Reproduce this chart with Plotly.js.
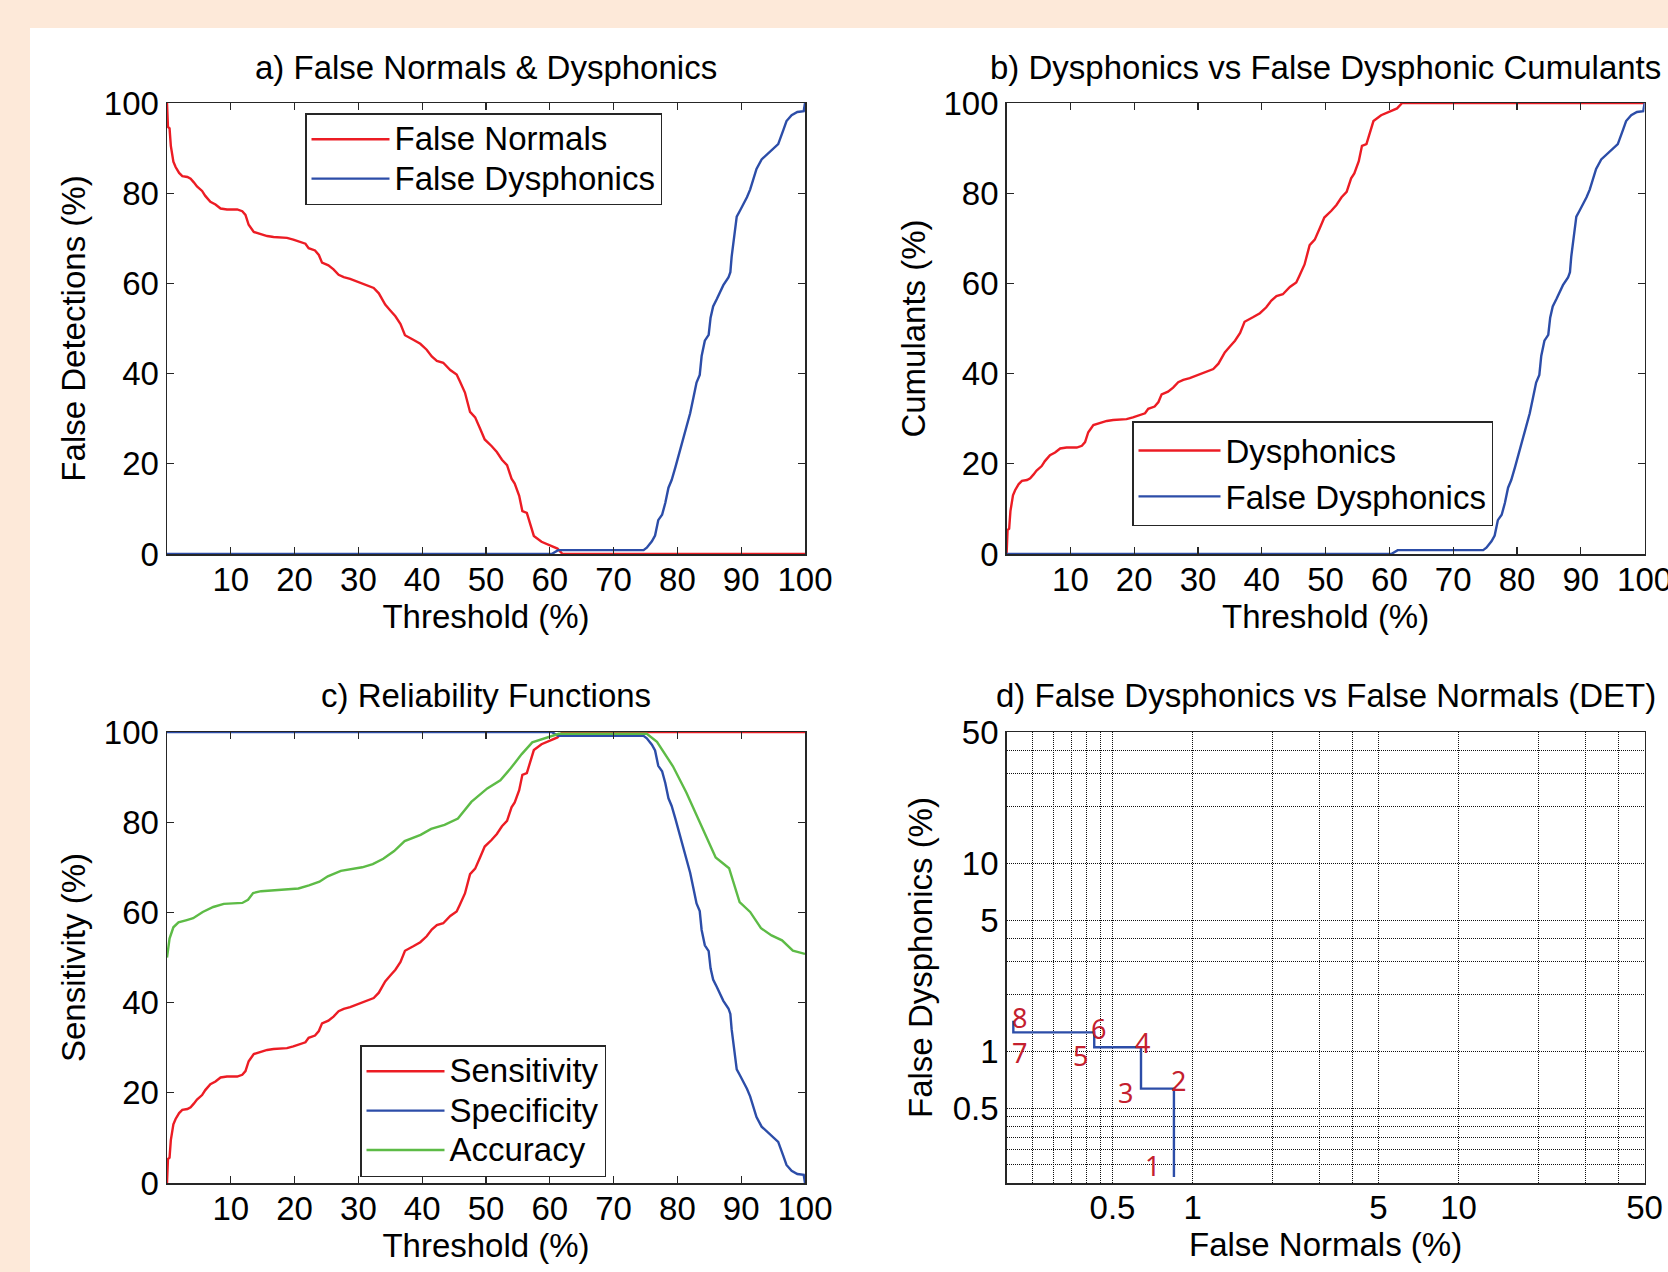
<!DOCTYPE html>
<html>
<head>
<meta charset="utf-8">
<script src="https://cdn.plot.ly/plotly-3.0.1.min.js"></script>
<style>
html,body{margin:0;padding:0;background:#fff;}
#chart{width:1668px;height:1272px;}
</style>
</head>
<body>
<div id="chart"></div>
<script>
// ---------------- DATA ----------------
// thresholds (%) for red curves (false normals / dysphonics / sensitivity)
const thrRed = [0, 0.15, 0.4, 0.6, 1.0, 1.35, 1.9, 2.4, 3.2, 3.7,
  4.2, 4.7, 5.5, 6.0, 6.8, 7.6, 8.4, 9.4, 11.0, 11.8,
  12.3, 12.8, 13.6, 14.6, 15.7, 16.7, 18.8, 19.8, 20.9, 21.7,
  22.2, 23.2, 23.8, 24.3, 25.3, 26.1, 26.9, 27.7, 28.7, 30.0,
  31.0, 31.6, 32.4, 33.2, 33.7, 34.2, 35.0, 35.8, 36.6, 37.3,
  38.6, 39.7, 40.7, 41.5, 42.3, 43.3, 44.4, 45.4, 45.9, 46.7,
  47.5, 48.3, 49.1, 49.8, 50.9, 51.7, 52.5, 53.3, 54.0, 54.5,
  55.2, 55.7, 56.4, 57.0, 57.5, 58.7, 60.4, 61.2, 62.0, 100];

const falseNormals = [100, 94.7, 94.4, 90.5, 87.0, 85.8, 84.5, 83.8, 83.6, 83.2,
  82.4, 81.5, 80.5, 79.4, 78.1, 77.5, 76.6, 76.4, 76.4, 76.0,
  75.2, 73.0, 71.4, 70.9, 70.5, 70.3, 70.1, 69.7, 69.2, 68.8,
  67.8, 67.3, 66.3, 64.6, 64.0, 63.1, 61.9, 61.4, 61.0, 60.3,
  59.7, 59.3, 59.0, 57.8, 56.5, 55.3, 54.0, 52.7, 51.0, 48.5,
  47.5, 46.6, 45.3, 43.8, 42.8, 42.4, 40.8, 39.8, 38.3, 35.8,
  31.5, 30.3, 27.7, 25.4, 23.9, 22.6, 20.9, 19.7, 16.7, 15.6,
  12.9, 9.5, 9.1, 6.1, 4.0, 2.7, 1.8, 1.2, 0, 0];

const dysphonics = [0, 5.3, 5.6, 9.5, 13.0, 14.2, 15.5, 16.2, 16.4, 16.8,
  17.6, 18.5, 19.5, 20.6, 21.9, 22.5, 23.4, 23.6, 23.6, 24.0,
  24.8, 27.0, 28.6, 29.1, 29.5, 29.7, 29.9, 30.3, 30.8, 31.2,
  32.2, 32.7, 33.7, 35.4, 36.0, 36.9, 38.1, 38.6, 39.0, 39.7,
  40.3, 40.7, 41.0, 42.2, 43.5, 44.7, 46.0, 47.3, 49.0, 51.5,
  52.5, 53.4, 54.7, 56.2, 57.2, 57.6, 59.2, 60.2, 61.7, 64.2,
  68.5, 69.7, 72.3, 74.6, 76.1, 77.4, 79.1, 80.3, 83.3, 84.4,
  87.1, 90.5, 90.9, 93.9, 96.0, 97.3, 98.2, 98.8, 100, 100];

const sensitivity = [0, 5.3, 5.6, 9.5, 13.0, 14.2, 15.5, 16.2, 16.4, 16.8,
  17.6, 18.5, 19.5, 20.6, 21.9, 22.5, 23.4, 23.6, 23.6, 24.0,
  24.8, 27.0, 28.6, 29.1, 29.5, 29.7, 29.9, 30.3, 30.8, 31.2,
  32.2, 32.7, 33.7, 35.4, 36.0, 36.9, 38.1, 38.6, 39.0, 39.7,
  40.3, 40.7, 41.0, 42.2, 43.5, 44.7, 46.0, 47.3, 49.0, 51.5,
  52.5, 53.4, 54.7, 56.2, 57.2, 57.6, 59.2, 60.2, 61.7, 64.2,
  68.5, 69.7, 72.3, 74.6, 76.1, 77.4, 79.1, 80.3, 83.3, 84.4,
  87.1, 90.5, 90.9, 93.9, 96.0, 97.3, 98.2, 98.8, 100, 100];

// thresholds (%) for blue curves (false dysphonics / specificity)
const thrBlue = [0, 60.3, 61.3, 74.7, 75.2, 76.0, 76.5, 77.0, 77.6, 78.1,
  78.6, 79.1, 79.7, 80.2, 80.7, 81.2, 81.6, 82.0, 82.5, 83.0,
  83.5, 83.8, 84.3, 84.9, 85.2, 85.6, 86.2, 86.7, 87.2, 88.0,
  88.3, 88.5, 88.9, 89.3, 89.8, 90.3, 90.9, 91.4, 91.9, 92.4,
  93.2, 94.0, 94.8, 95.8, 96.6, 97.1, 97.9, 98.8, 99.8, 100];

const falseDysphonics = [0, 0, 0.85, 0.85, 1.4, 2.8, 4.1, 7.5, 8.7, 11.3,
  14.7, 16.4, 19.3, 21.9, 24.4, 26.9, 28.6, 31.2, 34.6, 38.0,
  39.7, 43.9, 47.3, 48.6, 52.4, 54.9, 56.6, 58.3, 59.6, 61.3,
  62.5, 65.9, 70.2, 74.8, 76.1, 77.4, 79.1, 80.8, 83.3, 85.4,
  87.5, 88.6, 89.7, 90.9, 94.0, 96.0, 97.3, 98.0, 98.2, 100];

const specificity = [100, 100, 99.15, 99.15, 98.6, 97.2, 95.9, 92.5, 91.3, 88.7,
  85.3, 83.6, 80.7, 78.1, 75.6, 73.1, 71.4, 68.8, 65.4, 62.0,
  60.3, 56.1, 52.7, 51.4, 47.6, 45.1, 43.4, 41.7, 40.4, 38.7,
  37.5, 34.1, 29.8, 25.2, 23.9, 22.6, 20.9, 19.2, 16.7, 14.6,
  12.5, 11.4, 10.3, 9.1, 6.0, 4.0, 2.7, 2.0, 1.8, 0];

// accuracy (green)
const thrAcc = [0, 0.4, 1.0, 1.8, 3.1, 4.1, 5.6, 7.25, 8.9, 11.8,
  12.7, 13.5, 14.75, 17.25, 20.6, 22.25, 23.9, 25.2, 27.25, 30.6,
  32.25, 33.9, 35.6, 37.25, 39.75, 41.4, 43.5, 45.6, 47.7, 50.2,
  52.25, 53.9, 55.6, 57.25, 59.75, 61.4, 62.0, 75.2, 76.8, 79.3,
  81.4, 83.1, 84.75, 86.0, 88.1, 89.75, 91.4, 93.1, 94.75, 96.4,
  98.1, 100];

const accuracy = [50, 54.2, 56.7, 57.8, 58.3, 58.7, 60.1, 61.2, 61.9, 62.1,
  62.8, 64.3, 64.7, 65.0, 65.3, 66.0, 66.8, 68.0, 69.2, 70.0,
  70.7, 71.9, 73.6, 75.8, 77.2, 78.5, 79.4, 80.8, 84.5, 87.5,
  89.3, 92.0, 95.1, 97.7, 98.9, 99.6, 99.6, 99.6, 97.8, 92.4,
  86.6, 81.2, 75.8, 72.2, 69.8, 62.3, 60.1, 56.5, 54.9, 53.8,
  51.5, 50.8];

// DET curve (false normals %, false dysphonics %)
const detFalseNormals = [0.851, 0.851, 0.64, 0.64, 0.427, 0.427, 0.212, 0.212];
const detFalseDysphonics = [0.215, 0.635, 0.635, 1.054, 1.054, 1.264, 1.264, 1.458];
const detLabels = ['1', '2', '3', '4', '5', '6', '7', '8'];

// tick labels
const thresholdTicks = [10, 20, 30, 40, 50, 60, 70, 80, 90, 100];
const percentTicks = [0, 20, 40, 60, 80, 100];
const detTicks = [0.5, 1, 5, 10, 50];
const detTickText = ['0.5', '1', '5', '10', '50'];
const detGrid = [0.25, 0.3, 0.35, 0.4, 0.45, 2, 3, 4, 20, 30, 40];

// ---------------- STYLE / LAYOUT ----------------
const W = 1668, H = 1272;
const px = v => v / W;
const py = v => 1 - v / H;
const FONT = 'Liberation Sans, Arial, Helvetica, sans-serif';
const RED = '#EC1C24', BLUE = '#2C4DA8', GREEN = '#5DBB46', LABELRED = '#C4202E';
const AX = '#262626';
const FS = 33;
const LW = 2.4;
const big = s => '<span style="font-size:33px">' + s + '</span>';

// label pixel offsets relative to DET points [dx, dy]
const labelOffsets = [[-21, 12], [5, 8], [-16, -4], [1, 5], [-14, -8], [4, 4], [6, -20], [6, 3]];

const colLeft = [px(167), px(805)];
const colRight = [px(1006.6), px(1644.6)];
const rowTop = [py(554), py(103)];
const rowBot = [py(1183), py(732)];

function linX(domain, anchor, title) {
  return {
    domain: domain, anchor: anchor, range: [0, 100], tickmode: 'array', tickvals: thresholdTicks,
    ticks: 'inside', ticklen: 7, tickwidth: 1.2, tickcolor: AX, ticklabelstandoff: -4, ticklabeloverflow: 'allow',
    showline: true, linecolor: AX, linewidth: 1.5, mirror: 'ticks',
    showgrid: false, zeroline: false, fixedrange: true,
    tickfont: {family: FONT, size: FS, color: '#000'},
    title: {text: title, font: {family: FONT, size: FS, color: '#000'}, standoff: 6}
  };
}
function linY(domain, anchor, title) {
  return {
    domain: domain, anchor: anchor, range: [0, 100], tickmode: 'array', tickvals: percentTicks,
    ticks: 'inside', ticklen: 7, tickwidth: 1.2, tickcolor: AX,
    showline: true, linecolor: AX, linewidth: 1.5, mirror: 'ticks',
    showgrid: false, zeroline: false, fixedrange: true,
    tickfont: {family: FONT, size: FS, color: '#000'},
    title: {text: title, font: {family: FONT, size: FS, color: '#000'}, standoff: 8}
  };
}
function logAx(domain, anchor, title, standoff, isX) {
  return {
    domain: domain, anchor: anchor, type: 'log', range: [Math.log10(0.2), Math.log10(50)],
    tickmode: 'array', tickvals: detTicks, ticktext: detTickText, ticks: '',
    ticklabelstandoff: isX ? -5 : 0, ticklabeloverflow: 'allow',
    showgrid: true, gridcolor: '#111', griddash: '1px,1px', gridwidth: 1,
    minor: {tickmode: 'array', tickvals: detGrid, ticks: '', showgrid: true, gridcolor: '#111', griddash: '1px,1px', gridwidth: 1},
    showline: true, linecolor: AX, linewidth: 1.5, mirror: true, zeroline: false, fixedrange: true,
    tickfont: {family: FONT, size: FS, color: '#000'},
    title: {text: title, font: {family: FONT, size: FS, color: '#000'}, standoff: standoff}
  };
}

const traces = [
  {x: thrRed, y: falseNormals, name: big('False Normals'), type: 'scatter', mode: 'lines',
   line: {color: RED, width: LW}, xaxis: 'x', yaxis: 'y', legend: 'legend'},
  {x: thrBlue, y: falseDysphonics, name: big('False Dysphonics'), type: 'scatter', mode: 'lines',
   line: {color: BLUE, width: LW}, xaxis: 'x', yaxis: 'y', legend: 'legend'},
  {x: thrRed, y: dysphonics, name: 'Dysphonics', type: 'scatter', mode: 'lines',
   line: {color: RED, width: LW}, xaxis: 'x2', yaxis: 'y2', legend: 'legend2'},
  {x: thrBlue, y: falseDysphonics, name: 'False Dysphonics', type: 'scatter', mode: 'lines',
   line: {color: BLUE, width: LW}, xaxis: 'x2', yaxis: 'y2', legend: 'legend2'},
  {x: thrRed, y: sensitivity, name: big('Sensitivity'), type: 'scatter', mode: 'lines',
   line: {color: RED, width: LW}, xaxis: 'x3', yaxis: 'y3', legend: 'legend3'},
  {x: thrBlue, y: specificity, name: big('Specificity'), type: 'scatter', mode: 'lines',
   line: {color: BLUE, width: LW}, xaxis: 'x3', yaxis: 'y3', legend: 'legend3'},
  {x: thrAcc, y: accuracy, name: big('Accuracy'), type: 'scatter', mode: 'lines',
   line: {color: GREEN, width: LW}, xaxis: 'x3', yaxis: 'y3', legend: 'legend3'},
  {x: detFalseNormals, y: detFalseDysphonics, name: 'DET', type: 'scatter', mode: 'lines',
   line: {color: BLUE, width: LW}, xaxis: 'x4', yaxis: 'y4', showlegend: false}
];

function legendAt(x, y, fs, iw) {
  return {x: px(x), y: py(y), xanchor: 'left', yanchor: 'top', bgcolor: '#fff',
    bordercolor: AX, borderwidth: 1.5, itemwidth: iw, tracegroupgap: 0,
    font: {family: FONT, size: fs, color: '#000'}};
}

function titleAnn(x, y, text) {
  return {xref: 'paper', yref: 'paper', x: px(x), y: py(y), xanchor: 'center', yanchor: 'middle',
    text: text, showarrow: false, font: {family: FONT, size: FS, color: '#000'}};
}

const annotations = [
  titleAnn(486, 67, 'a) False Normals &amp; Dysphonics'),
  titleAnn(1325.6, 67, 'b) Dysphonics vs False Dysphonic Cumulants'),
  titleAnn(486, 695, 'c) Reliability Functions'),
  titleAnn(1325.6, 695, 'd) False Dysphonics vs False Normals (DET)')
];
detLabels.forEach((lab, i) => {
  annotations.push({xref: 'x4', yref: 'y4', x: Math.log10(detFalseNormals[i]), y: Math.log10(detFalseDysphonics[i]),
    text: lab, showarrow: false, xshift: labelOffsets[i][0], yshift: labelOffsets[i][1],
    font: {family: 'Noto Sans, Open Sans, sans-serif', size: 27, color: LABELRED}});
});

const layout = {
  width: W, height: H, margin: {l: 0, r: 0, t: 0, b: 0, pad: 0},
  paper_bgcolor: '#FDE9D9', plot_bgcolor: '#FFFFFF',
  font: {family: FONT, size: FS, color: '#000'},
  hovermode: false,
  xaxis: linX(colLeft, 'y', 'Threshold (%)'),
  yaxis: linY(rowTop, 'x', 'False Detections (%)'),
  xaxis2: linX(colRight, 'y2', 'Threshold (%)'),
  yaxis2: linY(rowTop, 'x2', 'Cumulants (%)'),
  xaxis3: linX(colLeft, 'y3', 'Threshold (%)'),
  yaxis3: linY(rowBot, 'x3', 'Sensitivity (%)'),
  xaxis4: logAx(colRight, 'y4', 'False Normals (%)', 6, true),
  yaxis4: logAx(rowBot, 'x4', 'False Dysphonics (%)', 10, false),
  legend: legendAt(305, 113, 28, 78),
  legend2: legendAt(1132, 421, 33, 82),
  legend3: legendAt(360, 1045, 28, 78),
  shapes: [
    {type: 'rect', xref: 'paper', yref: 'paper', x0: px(30), x1: 1, y0: 0, y1: py(28),
     fillcolor: '#FFFFFF', line: {width: 0}, layer: 'below'}
  ],
  annotations: annotations
};

Plotly.newPlot('chart', traces, layout, {staticPlot: true, displayModeBar: false});
</script>
</body>
</html>
